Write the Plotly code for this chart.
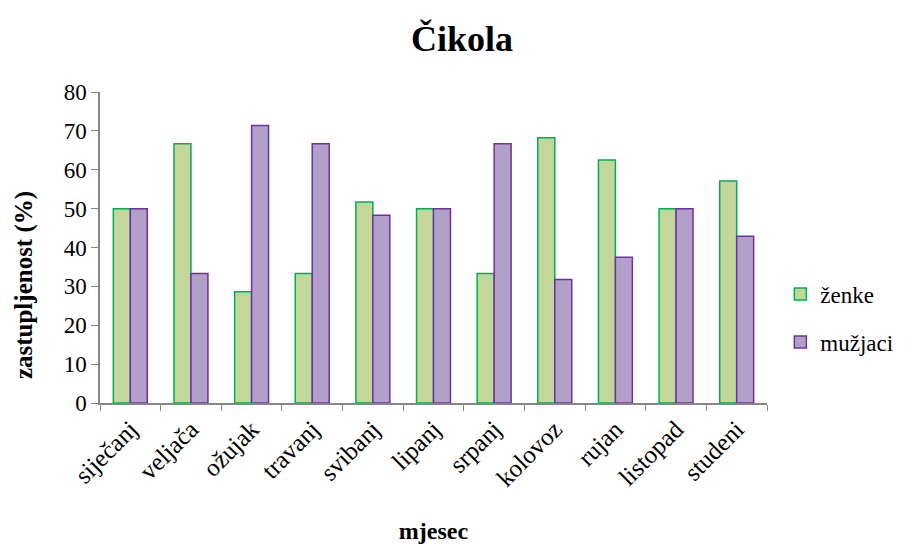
import plotly.graph_objects as go

months = ["siječanj", "veljača", "ožujak", "travanj", "svibanj", "lipanj",
          "srpanj", "kolovoz", "rujan", "listopad", "studeni"]
zenke = [50, 66.7, 28.6, 33.3, 51.7, 50, 33.3, 68.2, 62.5, 50, 57.1]
muzjaci = [50, 33.3, 71.4, 66.7, 48.3, 50, 66.7, 31.8, 37.5, 50, 42.9]
y_ticks = [0, 10, 20, 30, 40, 50, 60, 70, 80]

FONT = "Liberation Serif, Times New Roman, serif"

fig = go.Figure()
fig.add_trace(go.Bar(x=months, y=zenke, name="ženke", legendgroup="z",
                     marker=dict(color="#c4d79b", line=dict(color="#00b050", width=1.5))))
fig.add_trace(go.Bar(x=months, y=muzjaci, name="mužjaci", legendgroup="m",
                     marker=dict(color="#b1a0c7", line=dict(color="#7030a0", width=1.5))))

W, H = 908, 536
fig.update_layout(
    width=W, height=H,
    paper_bgcolor="white", plot_bgcolor="white",
    margin=dict(l=92, r=149, t=84, b=141, autoexpand=False),
    barmode="group", bargap=0.44, bargroupgap=0,
    font=dict(family=FONT, color="black", size=21),
    title=dict(text="<b>Čikola</b>", x=0.5, xref="container", y=1 - 30 / H, yref="container",
               yanchor="middle", xanchor="center", font=dict(size=36, family=FONT)),
    legend=dict(x=1.02, y=0.273, xanchor="left", yanchor="middle",
                traceorder="grouped", tracegroupgap=15, itemwidth=30,
                font=dict(size=23, family=FONT), bgcolor="rgba(0,0,0,0)"),
    showlegend=True,
    annotations=[dict(text="<b>zastupljenost (%)</b>", textangle=-90, showarrow=False,
                      xref="paper", yref="paper", x=-0.114, y=0.379,
                      xanchor="center", yanchor="middle",
                      font=dict(size=25, family=FONT, color="black"))],
)
fig.update_xaxes(
    title=dict(text="<b>mjesec</b>", font=dict(size=24, family=FONT), standoff=38),
    automargin=True,
    tickangle=-45, showline=True, linecolor="#868686", linewidth=1.5,
    ticks="outside", tickson="boundaries", ticklen=6, tickcolor="#868686",
    tickfont=dict(size=25, family=FONT), showgrid=False,
)
fig.update_yaxes(
    automargin=False,
    range=[0, 80], tickvals=y_ticks, showline=True, linecolor="#868686", linewidth=1.5,
    ticks="outside", ticklen=7, tickcolor="#868686", showgrid=False, zeroline=False,
    tickfont=dict(size=23, family=FONT),
)

fig.write_html("out.html")
